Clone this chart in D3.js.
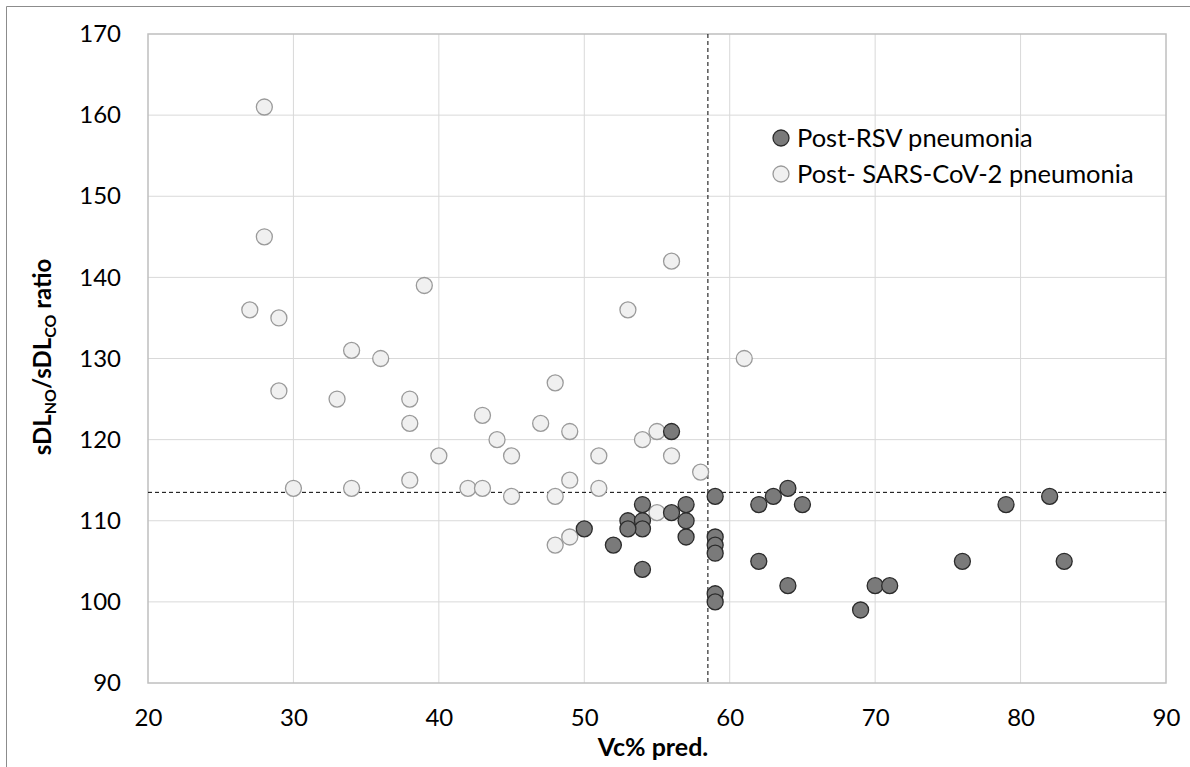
<!DOCTYPE html>
<html>
<head>
<meta charset="utf-8">
<script src="https://cdn.jsdelivr.net/npm/d3@7"></script>
<style>
  html, body { margin: 0; padding: 0; background: #fff; }
  svg { display: block; font-family: Lato, "Open Sans", sans-serif; }
</style>
</head>
<body>
<svg id="chart" width="1190" height="767"></svg>
<script>
// ── Data ──────────────────────────────────────────────────────────────────
const xTicks = [20, 30, 40, 50, 60, 70, 80, 90];
const yTicks = [90, 100, 110, 120, 130, 140, 150, 160, 170];

const seriesNames = ['Post-RSV pneumonia', 'Post- SARS-CoV-2 pneumonia'];

// Post-RSV pneumonia
const rsvVc    = [56, 59, 54, 57, 53, 54, 54, 53, 56, 57, 57, 50, 52, 54, 59, 59, 59, 59, 59, 62, 63, 64, 65, 62, 64, 69, 70, 71, 76, 79, 82, 83];
const rsvRatio = [121, 113, 112, 112, 110, 110, 109, 109, 111, 110, 108, 109, 107, 104, 108, 107, 106, 101, 100, 112, 113, 114, 112, 105, 102, 99, 102, 102, 105, 112, 113, 105];

// Post- SARS-CoV-2 pneumonia
const covVc    = [28, 28, 27, 29, 29, 30, 33, 34, 34, 36, 39, 38, 38, 38, 40, 42, 43, 43, 44, 45, 45, 47, 48, 48, 48, 49, 49, 49, 51, 51, 53, 54, 55, 55, 56, 56, 58, 61];
const covRatio = [161, 145, 136, 135, 126, 114, 125, 131, 114, 130, 139, 125, 122, 115, 118, 114, 114, 123, 120, 118, 113, 122, 127, 113, 107, 121, 115, 108, 118, 114, 136, 120, 121, 111, 142, 118, 116, 130];

// cut-off reference lines
const vcCut = 58.5;
const ratioCut = 113.5;

// ── Layout ────────────────────────────────────────────────────────────────
const M = { left: 148, right: 1166, top: 34, bottom: 683 };
const R = 8;

const svg = d3.select('#chart');

const x = d3.scaleLinear().domain([20, 90]).range([M.left, M.right]);
const y = d3.scaleLinear().domain([90, 170]).range([M.bottom, M.top]);

// outer frame (top + left edges visible)
svg.append('path')
  .attr('d', 'M6.5,767 V6.5 H1190')
  .attr('fill', 'none')
  .attr('stroke', '#8c8c8c')
  .attr('stroke-width', 1);

// ── Grid ──────────────────────────────────────────────────────────────────
svg.append('g')
  .selectAll('line')
  .data(xTicks.slice(1, -1))
  .join('line')
  .attr('x1', d => x(d)).attr('x2', d => x(d))
  .attr('y1', M.top).attr('y2', M.bottom)
  .attr('stroke', '#d9d9d9').attr('stroke-width', 1);

svg.append('g')
  .selectAll('line')
  .data(yTicks.slice(1, -1))
  .join('line')
  .attr('x1', M.left).attr('x2', M.right)
  .attr('y1', d => y(d)).attr('y2', d => y(d))
  .attr('stroke', '#d9d9d9').attr('stroke-width', 1);

// plot frame
svg.append('rect')
  .attr('x', M.left).attr('y', M.top)
  .attr('width', M.right - M.left).attr('height', M.bottom - M.top)
  .attr('fill', 'none')
  .attr('stroke', '#bfbfbf').attr('stroke-width', 1.5);

// ── Axes ──────────────────────────────────────────────────────────────────
const xAxis = svg.append('g')
  .attr('transform', `translate(0,${M.bottom})`)
  .call(d3.axisBottom(x).tickValues(xTicks).tickSize(0).tickPadding(26));
xAxis.select('.domain').remove();
xAxis.selectAll('text')
  .attr('font-family', 'Lato, sans-serif')
  .attr('font-size', 24)
  .attr('fill', '#000');

const yAxis = svg.append('g')
  .attr('transform', `translate(${M.left},0)`)
  .call(d3.axisLeft(y).tickValues(yTicks).tickSize(0).tickPadding(27));
yAxis.select('.domain').remove();
yAxis.selectAll('text')
  .attr('font-family', 'Lato, sans-serif')
  .attr('font-size', 24)
  .attr('fill', '#000');

// ── Cut-off lines ─────────────────────────────────────────────────────────
svg.append('line')
  .attr('x1', x(vcCut)).attr('x2', x(vcCut))
  .attr('y1', M.top).attr('y2', M.bottom)
  .attr('stroke', '#000').attr('stroke-width', 1)
  .attr('stroke-dasharray', '4,3');

svg.append('line')
  .attr('x1', M.left).attr('x2', M.right)
  .attr('y1', y(ratioCut)).attr('y2', y(ratioCut))
  .attr('stroke', '#000').attr('stroke-width', 1)
  .attr('stroke-dasharray', '4,3');

// ── Points ────────────────────────────────────────────────────────────────
const covPts = covVc.map((v, i) => ({ vc: v, ratio: covRatio[i] }));
const rsvPts = rsvVc.map((v, i) => ({ vc: v, ratio: rsvRatio[i] }));

svg.append('g')
  .selectAll('circle')
  .data(covPts)
  .join('circle')
  .attr('cx', d => x(d.vc))
  .attr('cy', d => y(d.ratio))
  .attr('r', R)
  .attr('fill', '#f0f0f0')
  .attr('stroke', '#9a9a9a')
  .attr('stroke-width', 1.3);

svg.append('g')
  .selectAll('circle')
  .data(rsvPts)
  .join('circle')
  .attr('cx', d => x(d.vc))
  .attr('cy', d => y(d.ratio))
  .attr('r', R)
  .attr('fill', '#7a7a7a')
  .attr('stroke', '#2b2b2b')
  .attr('stroke-width', 1.3);

// ── Legend ────────────────────────────────────────────────────────────────
const legendStyles = [
  { fill: '#7a7a7a', stroke: '#2b2b2b' },
  { fill: '#f0f0f0', stroke: '#9a9a9a' },
];
const legend = svg.append('g').attr('transform', 'translate(781,138)');
const item = legend.selectAll('g')
  .data(seriesNames)
  .join('g')
  .attr('transform', (d, i) => `translate(0,${i * 36})`);
item.append('circle')
  .attr('r', R)
  .attr('fill', (d, i) => legendStyles[i].fill)
  .attr('stroke', (d, i) => legendStyles[i].stroke)
  .attr('stroke-width', 1.3);
item.append('text')
  .attr('x', 16)
  .attr('y', 9)
  .attr('font-size', 25.5)
  .attr('fill', '#000')
  .text(d => d);

// ── Axis titles ───────────────────────────────────────────────────────────
svg.append('text')
  .attr('x', 653)
  .attr('y', 756)
  .attr('text-anchor', 'middle')
  .attr('font-size', 25)
  .attr('font-weight', 'bold')
  .attr('fill', '#000')
  .text('Vc% pred.');

const yTitle = svg.append('text')
  .attr('transform', 'translate(51,357) rotate(-90)')
  .attr('text-anchor', 'middle')
  .attr('font-size', 24)
  .attr('font-weight', 'bold')
  .attr('fill', '#000');
yTitle.append('tspan').text('sDL');
yTitle.append('tspan').attr('font-size', 16).attr('dy', 5).text('NO');
yTitle.append('tspan').attr('dy', -5).text('/sDL');
yTitle.append('tspan').attr('font-size', 16).attr('dy', 5).text('CO');
yTitle.append('tspan').attr('dy', -5).text(' ratio');
</script>
</body>
</html>
